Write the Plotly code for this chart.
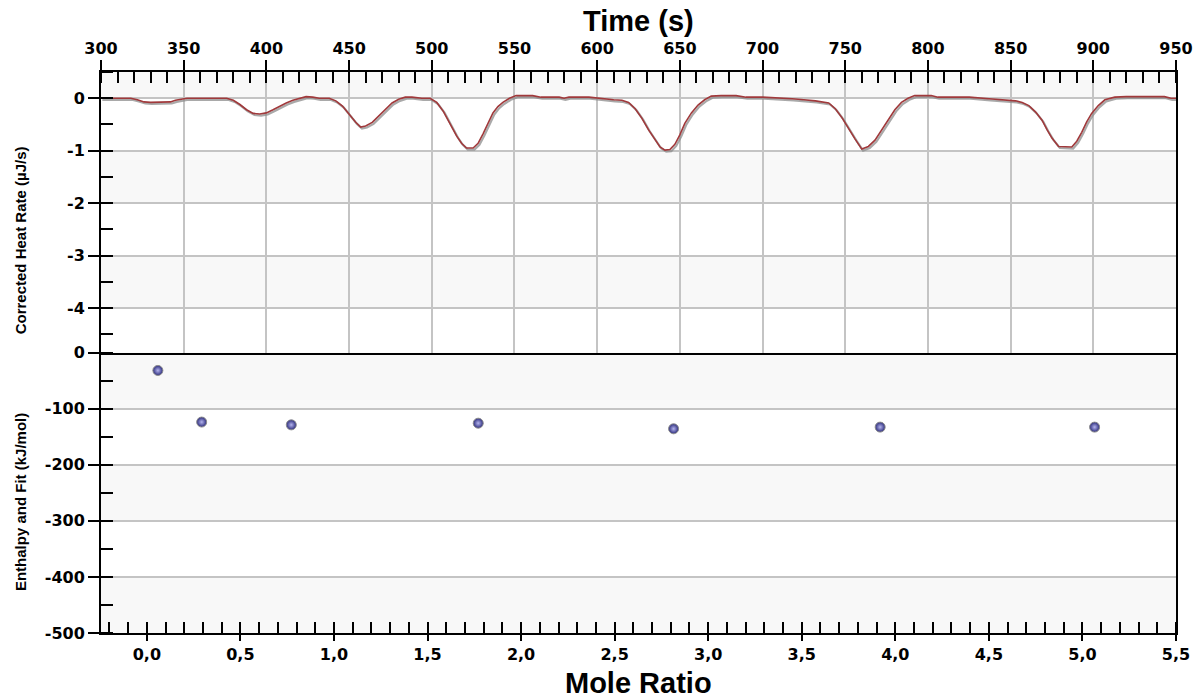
import plotly.graph_objects as go

# Corrected heat rate trace (time in s, heat rate in µJ/s)
time_s = [300, 310, 318, 322, 326, 330, 336, 342, 345, 350, 352, 360, 370, 376,
          380, 384, 388, 392, 396, 400, 404, 408, 412, 416, 420, 424, 428, 432, 438,
          442, 446, 450, 454, 457, 460, 464, 468, 472, 476, 480, 484, 488, 494, 499,
          503, 507, 511, 515, 518, 521, 525, 528, 531, 534, 537, 540, 543, 547, 551,
          556, 561, 566, 577, 580, 583, 595, 600, 605, 610, 615, 619, 623, 627, 631,
          635, 638, 641, 644, 647, 650, 653, 657, 661, 665, 669, 675, 684, 690, 700,
          710, 718, 725, 732, 740, 744, 748, 752, 756, 760, 764, 768, 772, 776, 780,
          784, 788, 792, 802, 806, 825, 837, 845, 853, 857, 861, 865, 869, 872, 875,
          879, 887, 890, 893, 896, 899, 903, 907, 913, 920, 943, 947, 950]
heat_rate = [0.0, 0.0, 0.0, -0.03, -0.07, -0.08, -0.08, -0.07, -0.04, -0.02, 0.0, 0.0, 0.0, 0.0,
             -0.04, -0.12, -0.22, -0.29, -0.30, -0.28, -0.22, -0.15, -0.09, -0.04, -0.01, 0.03, 0.02, 0.0, 0.0,
             -0.05, -0.15, -0.30, -0.46, -0.55, -0.53, -0.46, -0.33, -0.20, -0.09, -0.02, 0.02, 0.02, 0.0, 0.0,
             -0.08, -0.25, -0.48, -0.72, -0.86, -0.95, -0.95, -0.86, -0.68, -0.48, -0.28, -0.16, -0.08, 0.0, 0.05,
             0.05, 0.05, 0.02, 0.02, 0.0, 0.02, 0.02, 0.0, -0.01, -0.03, -0.04, -0.08, -0.20, -0.38, -0.60,
             -0.80, -0.93, -0.99, -0.98, -0.88, -0.70, -0.48, -0.28, -0.13, -0.03, 0.04, 0.05, 0.05, 0.02, 0.02,
             0.01, -0.01, -0.03, -0.05, -0.09, -0.20, -0.37, -0.58, -0.78, -0.97, -0.92, -0.80, -0.60, -0.40, -0.22,
             -0.08, 0.0, 0.05, 0.05, 0.02, 0.02, -0.01, -0.03, -0.05, -0.08, -0.14, -0.26, -0.42, -0.60, -0.76,
             -0.92, -0.93, -0.82, -0.65, -0.45, -0.29, -0.14, -0.03, 0.02, 0.03, 0.03, 0.0, 0.0]

# Integrated injection enthalpies
mole_ratio = [0.059, 0.293, 0.772, 1.771, 2.815, 3.919, 5.065]
enthalpy = [-32, -124, -129, -126, -136, -133, -133]

# Axis ticks
time_ticks = list(range(300, 951, 50))
heat_ticks = [0, -1, -2, -3, -4]
heat_labels = ["0", "-1", "-2", "-3", "-4"]
enth_ticks = [0, -100, -200, -300, -400, -500]
enth_labels = ["0", "-100", "-200", "-300", "-400", "-500"]
mole_ticks = [0.0, 0.5, 1.0, 1.5, 2.0, 2.5, 3.0, 3.5, 4.0, 4.5, 5.0, 5.5]
mole_labels = ["0,0", "0,5", "1,0", "1,5", "2,0", "2,5", "3,0", "3,5", "4,0", "4,5", "5,0", "5,5"]

TIME_RANGE = [300, 950]
HEAT_RANGE = [-4.85, 0.5]
ENTH_RANGE = [-500, 0]
MOLE_RANGE = [-0.245, 5.5]

FONT = "Liberation Sans, Arial, sans-serif"
TICK_FONT = "DejaVu Sans, Verdana, sans-serif"
tick_font = dict(family=TICK_FONT, size=16, color="black", weight="bold")
GRID = "#c4c4c4"
BAND = "#f8f8f8"

fig = go.Figure()

# soft grey shadow under the heat-rate curve
fig.add_trace(go.Scatter(
    x=[t + 0.8 for t in time_s], y=[v - 0.03 for v in heat_rate],
    xaxis="x2", yaxis="y2", mode="lines",
    line=dict(color="rgba(140,140,140,0.75)", width=2.2),
    hoverinfo="skip", showlegend=False))
fig.add_trace(go.Scatter(
    x=time_s, y=heat_rate, xaxis="x2", yaxis="y2", mode="lines",
    line=dict(color="#a0393b", width=1.6), showlegend=False))

fig.add_trace(go.Scatter(
    x=mole_ratio, y=enthalpy, xaxis="x", yaxis="y", mode="markers",
    marker=dict(symbol="circle", size=10, color="#2c2c7c",
                gradient=dict(type="radial", color="#b4b4ee"),
                line=dict(color="#8c8c8c", width=1)),
    showlegend=False))

# alternating horizontal bands
def add_bands(bounds, xref, yref):
    for i in range(len(bounds) - 1):
        if i % 2 == 0:
            fig.add_shape(type="rect", xref=xref, yref=yref, x0=0, x1=1,
                          y0=bounds[i + 1], y1=bounds[i], fillcolor=BAND,
                          line=dict(width=0), layer="below")

add_bands(sorted(set([HEAT_RANGE[1]] + heat_ticks + [HEAT_RANGE[0]]), reverse=True), "x2 domain", "y2")
add_bands(sorted(set([ENTH_RANGE[1]] + enth_ticks + [ENTH_RANGE[0]]), reverse=True), "x domain", "y")

axis_line = dict(showline=True, linecolor="black", linewidth=2, zeroline=False, automargin=False)

fig.update_layout(
    width=1202, height=699,
    margin=dict(l=101, r=26, t=72, b=66, autoexpand=False),
    paper_bgcolor="white", plot_bgcolor="white",
    showlegend=False,
    # mole ratio (bottom)
    xaxis=dict(domain=[0, 1], anchor="y", range=MOLE_RANGE,
               tickmode="array", tickvals=mole_ticks, ticktext=mole_labels,
               ticks="outside", ticklen=6, tickwidth=2, tickcolor="black",
               minor=dict(tickmode="linear", tick0=0, dtick=0.1, ticks="inside",
                          ticklen=11, tickwidth=1.5, tickcolor="black", showgrid=False),
               showgrid=False, tickfont=tick_font, **axis_line),
    # time (top)
    xaxis2=dict(domain=[0, 1], anchor="y2", side="top", range=TIME_RANGE,
                tickmode="array", tickvals=time_ticks,
                ticks="outside", ticklen=10, tickwidth=2, tickcolor="black",
                minor=dict(tickmode="linear", tick0=300, dtick=10, ticks="inside",
                           ticklen=11, tickwidth=1.5, tickcolor="black", showgrid=False),
                showgrid=True, gridcolor=GRID, gridwidth=1.5,
                mirror=True, tickfont=tick_font, **axis_line),
    # time grid continued through the lower panel
    xaxis3=dict(anchor="y", overlaying="x", range=TIME_RANGE,
                tickmode="array", tickvals=time_ticks, showticklabels=False,
                ticks="", showgrid=True, gridcolor=GRID, gridwidth=1.5,
                showline=False, zeroline=False, automargin=False),
    # inner half of the major mole-ratio ticks
    xaxis4=dict(anchor="y", overlaying="x", range=MOLE_RANGE,
                tickmode="array", tickvals=mole_ticks, showticklabels=False,
                ticks="inside", ticklen=11, tickwidth=2, tickcolor="black",
                showgrid=False, showline=False, zeroline=False, automargin=False),
    yaxis=dict(domain=[0, 0.5], anchor="x", range=ENTH_RANGE,
               tickmode="array", tickvals=enth_ticks, ticktext=enth_labels,
               ticks="outside", ticklen=11, tickwidth=2, tickcolor="black",
               minor=dict(tickmode="linear", tick0=0, dtick=50, ticks="inside",
                          ticklen=12, tickwidth=1.5, tickcolor="black", showgrid=False),
               showgrid=True, gridcolor=GRID, gridwidth=1.5,
               mirror=True, tickfont=tick_font, **axis_line),
    yaxis2=dict(domain=[0.5, 1], anchor="x2", range=HEAT_RANGE,
                tickmode="array", tickvals=heat_ticks, ticktext=heat_labels,
                ticks="outside", ticklen=11, tickwidth=2, tickcolor="black",
                minor=dict(tickmode="linear", tick0=0, dtick=0.5, ticks="inside",
                           ticklen=12, tickwidth=1.5, tickcolor="black", showgrid=False),
                showgrid=True, gridcolor=GRID, gridwidth=1.5,
                mirror=True, tickfont=tick_font, **axis_line),
)

title_font = dict(family=FONT, size=29, color="black", weight="bold")
ytitle_font = dict(family=FONT, size=15, color="black", weight="bold")
fig.add_annotation(text="Time (s)", xref="paper", yref="paper", x=0.5, y=1.091,
                   showarrow=False, font=title_font, yanchor="middle")
fig.add_annotation(text="Mole Ratio", xref="paper", yref="paper", x=0.5, y=-0.089,
                   showarrow=False, font=title_font, yanchor="middle")
fig.add_annotation(text="Corrected Heat Rate (µJ/s)", xref="paper", yref="paper",
                   x=-0.0753, y=0.70, textangle=-90, showarrow=False,
                   font=ytitle_font, xanchor="center", yanchor="middle")
fig.add_annotation(text="Enthalpy and Fit (kJ/mol)", xref="paper", yref="paper",
                   x=-0.0753, y=0.2335, textangle=-90, showarrow=False,
                   font=ytitle_font, xanchor="center", yanchor="middle")

fig.write_html("out.html")
